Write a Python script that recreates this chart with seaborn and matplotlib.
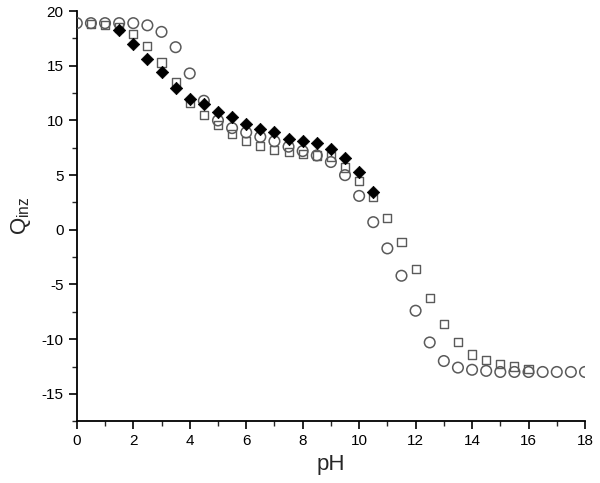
import numpy as np
import pandas as pd
import seaborn as sns
import matplotlib.pyplot as plt
from matplotlib.ticker import MultipleLocator

# open circles
ph_circ = [0, 0.5, 1, 1.5, 2, 2.5, 3, 3.5, 4, 4.5, 5, 5.5, 6, 6.5, 7, 7.5, 8, 8.5,
           9, 9.5, 10, 10.5, 11, 11.5, 12, 12.5, 13, 13.5, 14, 14.5, 15, 15.5,
           16, 16.5, 17, 17.5, 18]
q_circ = [18.9, 18.9, 18.9, 18.9, 18.9, 18.7, 18.1, 16.7, 14.3, 11.8, 10.0, 9.3,
          8.9, 8.5, 8.1, 7.6, 7.2, 6.8, 6.2, 5.0, 3.1, 0.7, -1.7, -4.2, -7.4,
          -10.3, -12.0, -12.6, -12.8, -12.9, -13.0, -13.0, -13.0, -13.0, -13.0,
          -13.0, -13.0]

# open squares
ph_sq = [0.5, 1, 1.5, 2, 2.5, 3, 3.5, 4, 4.5, 5, 5.5, 6, 6.5, 7, 7.5, 8, 8.5, 9,
         9.5, 10, 10.5, 11, 11.5, 12, 12.5, 13, 13.5, 14, 14.5, 15, 15.5, 16]
q_sq = [18.8, 18.7, 18.5, 17.9, 16.8, 15.3, 13.5, 11.6, 10.5, 9.6, 8.8, 8.1, 7.7,
        7.3, 7.1, 6.9, 6.8, 6.7, 5.7, 4.5, 3.0, 1.1, -1.1, -3.6, -6.2, -8.6,
        -10.3, -11.4, -11.9, -12.3, -12.5, -12.7]

# filled diamonds
ph_dia = [1.5, 2, 2.5, 3, 3.5, 4, 4.5, 5, 5.5, 6, 6.5, 7, 7.5, 8, 8.5, 9, 9.5,
          10, 10.5]
q_dia = [18.3, 17.0, 15.6, 14.4, 13.0, 12.0, 11.5, 10.8, 10.3, 9.7, 9.2, 8.9,
         8.3, 8.1, 7.9, 7.4, 6.6, 5.3, 3.5]

sns.set_style("ticks")
plt.rcParams["font.family"] = ["Liberation Sans", "DejaVu Sans"]
plt.rcParams["axes.unicode_minus"] = False

fig = plt.figure(figsize=(6, 4.83), dpi=100)
ax = fig.add_axes([0.128, 0.128, 0.847, 0.849])

gray = "#5a5a5a"
sns.scatterplot(x=ph_sq, y=q_sq, marker="s", s=34, facecolor="none",
                edgecolor=gray, linewidth=1.0, ax=ax, zorder=2)
sns.scatterplot(x=ph_circ, y=q_circ, marker="o", s=58, facecolor="none",
                edgecolor=gray, linewidth=1.1, ax=ax, zorder=3)
sns.scatterplot(x=ph_dia, y=q_dia, marker="D", s=40, color="black",
                edgecolor="black", linewidth=0.5, ax=ax, zorder=4)

ax.set_xlim(0, 18)
ax.set_ylim(-17.5, 20)
ax.xaxis.set_major_locator(MultipleLocator(2))
ax.xaxis.set_minor_locator(MultipleLocator(1))
ax.yaxis.set_major_locator(MultipleLocator(5))
ax.yaxis.set_minor_locator(MultipleLocator(2.5))
ax.tick_params(which="major", direction="out", length=6, width=1.2,
               labelsize=11, colors="black")
ax.tick_params(which="minor", direction="out", length=3.5, width=1.0)
for side in ["left", "bottom"]:
    ax.spines[side].set_linewidth(1.3)
    ax.spines[side].set_color("black")
sns.despine(ax=ax)

ax.set_xlabel("pH", fontsize=16, labelpad=4)
ax.set_ylabel(r"Q$_{\mathregular{inz}}$", fontsize=16, labelpad=6)

fig.savefig("out.png", dpi=100)
